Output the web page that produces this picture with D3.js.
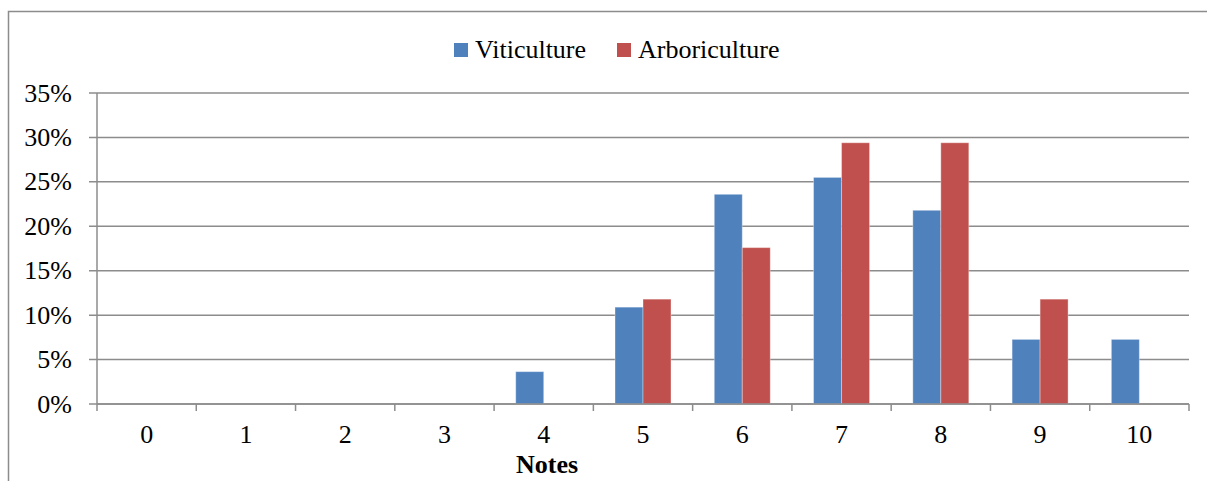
<!DOCTYPE html>
<html>
<head>
<meta charset="utf-8">
<script src="https://cdn.jsdelivr.net/npm/d3@7"></script>
<style>
  body { margin: 0; background: #fff; }
  svg { display: block; }
</style>
</head>
<body>
<svg width="1207" height="481"></svg>
<script>
const notes = ["0", "1", "2", "3", "4", "5", "6", "7", "8", "9", "10"];
const viticulture = [0, 0, 0, 0, 0.0364, 0.109, 0.236, 0.255, 0.218, 0.0727, 0.0727];
const arboriculture = [0, 0, 0, 0, 0, 0.118, 0.176, 0.294, 0.294, 0.118, 0];
const yTicks = [0, 0.05, 0.10, 0.15, 0.20, 0.25, 0.30, 0.35];
const seriesNames = ["Viticulture", "Arboriculture"];
const colors = ["#4f81bd", "#c0504d"];

const font = "Liberation Serif";
const svg = d3.select("svg").attr("font-family", font);
const plotLeft = 97, plotRight = 1189, plotTop = 93, plotBottom = 404;

// chart frame
svg.append("rect")
    .attr("x", 8.5).attr("y", 11.5)
    .attr("width", 1220).attr("height", 500)
    .attr("fill", "none")
    .attr("stroke", "#8c8c8c")
    .attr("stroke-width", 1.5);

const x = d3.scaleBand().domain(notes).range([plotLeft, plotRight]).padding(0);
const y = d3.scaleLinear().domain([0, 0.35]).range([plotBottom, plotTop]);
const barW = x.bandwidth() * 0.282;

// gridlines
svg.append("g").selectAll("line")
    .data(yTicks)
    .enter().append("line")
    .attr("x1", plotLeft - 8).attr("x2", plotRight)
    .attr("y1", d => y(d)).attr("y2", d => y(d))
    .attr("stroke", "#8c8c8c")
    .attr("stroke-width", 1.5);

// y axis line
svg.append("line")
    .attr("x1", plotLeft).attr("x2", plotLeft)
    .attr("y1", plotTop).attr("y2", plotBottom)
    .attr("stroke", "#8c8c8c").attr("stroke-width", 1.5);

svg.append("g").selectAll("text")
    .data(yTicks)
    .enter().append("text")
    .attr("x", 72)
    .attr("y", d => y(d) + 8.5)
    .attr("text-anchor", "end")
    .attr("font-family", font)
    .attr("font-size", "26px")
    .attr("fill", "#000")
    .text(d => Math.round(d * 100) + "%");

// bars
const barData = [];
notes.forEach((n, i) => {
    [viticulture[i], arboriculture[i]].forEach((v, k) => {
        if (v > 0) barData.push({ note: n, v: v, k: k });
    });
});

svg.append("g").selectAll("rect")
    .data(barData)
    .enter().append("rect")
    .attr("x", d => x(d.note) + x.bandwidth() / 2 - barW + d.k * barW)
    .attr("y", d => y(d.v))
    .attr("width", barW)
    .attr("height", d => plotBottom - y(d.v))
    .attr("fill", d => colors[d.k])
    .attr("stroke", "rgba(255,255,255,0.35)")
    .attr("stroke-width", 1);

// x axis
svg.append("line")
    .attr("x1", plotLeft).attr("x2", plotRight)
    .attr("y1", plotBottom).attr("y2", plotBottom)
    .attr("stroke", "#8c8c8c").attr("stroke-width", 1.5);

const xTickPos = notes.map(n => x(n)).concat([plotRight]);
svg.append("g").selectAll("line")
    .data(xTickPos)
    .enter().append("line")
    .attr("x1", d => d).attr("x2", d => d)
    .attr("y1", plotBottom).attr("y2", plotBottom + 7)
    .attr("stroke", "#8c8c8c").attr("stroke-width", 1.5);

svg.append("g").selectAll("text")
    .data(notes)
    .enter().append("text")
    .attr("x", d => x(d) + x.bandwidth() / 2)
    .attr("y", 443)
    .attr("text-anchor", "middle")
    .attr("font-family", font)
    .attr("font-size", "26px")
    .attr("fill", "#000")
    .text(d => d);

svg.append("text")
    .attr("x", 547)
    .attr("y", 473)
    .attr("text-anchor", "middle")
    .attr("font-family", font)
    .attr("font-size", "26px")
    .attr("font-weight", "bold")
    .text("Notes");

// legend
const legendX = [454, 617];
seriesNames.forEach((name, i) => {
    svg.append("rect")
        .attr("x", legendX[i]).attr("y", 43)
        .attr("width", 14).attr("height", 14)
        .attr("fill", colors[i]);
    svg.append("text")
        .attr("x", legendX[i] + 21)
        .attr("y", 58)
        .attr("font-family", font)
        .attr("font-size", "26px")
        .text(name);
});
</script>
</body>
</html>
